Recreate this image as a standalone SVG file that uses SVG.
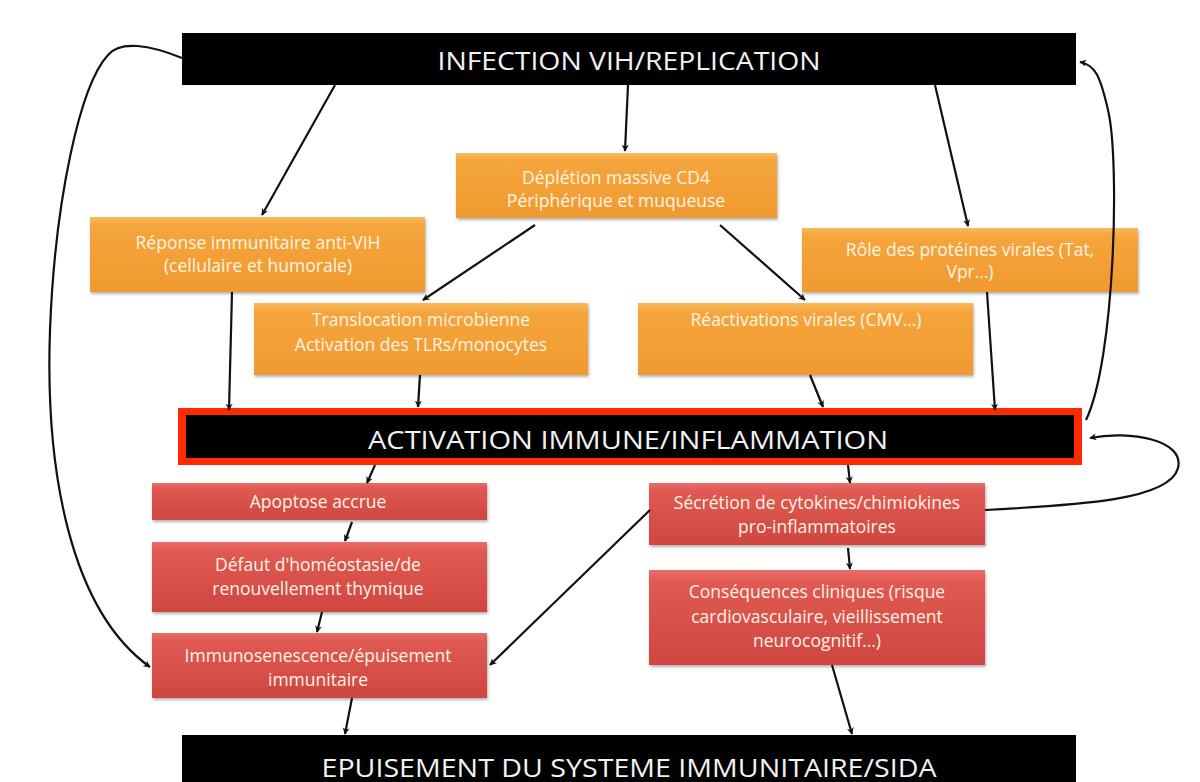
<svg xmlns="http://www.w3.org/2000/svg" width="1200" height="782" viewBox="0 0 1200 782">
<defs>
<linearGradient id="gOr" x1="0" y1="0" x2="0" y2="1">
<stop offset="0" stop-color="#f8bb5c"/>
<stop offset="0.12" stop-color="#f5a53c"/>
<stop offset="1" stop-color="#f09a30"/>
</linearGradient>
<linearGradient id="gRd" x1="0" y1="0" x2="0" y2="1">
<stop offset="0" stop-color="#ea6e66"/>
<stop offset="0.12" stop-color="#e05a53"/>
<stop offset="1" stop-color="#cf4640"/>
</linearGradient>
<filter id="sh" x="-5%" y="-10%" width="110%" height="130%">
<feDropShadow dx="1" dy="2" stdDeviation="1.5" flood-color="#000" flood-opacity="0.3"/>
</filter>
<marker id="ah" viewBox="0 0 10 10" refX="9" refY="5" markerWidth="7" markerHeight="7" orient="auto" markerUnits="userSpaceOnUse">
<path d="M0,0 L10,5 L0,10 L3,5 z" fill="#111"/>
</marker>
</defs>
<style>
.bar{fill:#000}
.or{fill:url(#gOr);filter:url(#sh)}
.rd{fill:url(#gRd);filter:url(#sh)}
.bt{font-family:"Open Sans","Liberation Sans",Arial,sans-serif;font-size:25px;fill:#f2f2f2;text-anchor:middle}
.t{font-family:"Open Sans","Liberation Sans",Arial,sans-serif;font-size:17.5px;fill:#fff4e6;text-anchor:middle}
.c{fill:none;stroke:#111;stroke-width:2.2;marker-end:url(#ah)}
</style>
<rect width="1200" height="782" fill="#fff"/>

<g id="infection">
<rect class="bar" x="182" y="33" width="894" height="52"/>
<text class="bt" x="629" y="70" textLength="383" lengthAdjust="spacingAndGlyphs">INFECTION VIH/REPLICATION</text>
</g>

<g id="depletion">
<rect class="or" x="456" y="153" width="321" height="65"/>
<text class="t" x="616" y="184">Déplétion massive CD4</text>
<text class="t" x="616" y="207">Périphérique et muqueuse</text>
</g>

<g id="reponse">
<rect class="or" x="90" y="217" width="335" height="75"/>
<text class="t" x="258" y="249">Réponse immunitaire anti-VIH</text>
<text class="t" x="258" y="272">(cellulaire et humorale)</text>
</g>

<g id="role">
<rect class="or" x="802" y="228" width="336" height="64"/>
<text class="t" x="970" y="256">Rôle des protéines virales (Tat,</text>
<text class="t" x="970" y="278">Vpr…)</text>
</g>

<g id="translocation">
<rect class="or" x="254" y="303" width="334" height="72"/>
<text class="t" x="421" y="326">Translocation microbienne</text>
<text class="t" x="421" y="351">Activation des TLRs/monocytes</text>
</g>

<g id="reactivations">
<rect class="or" x="638" y="303" width="335" height="72"/>
<text class="t" x="806" y="326">Réactivations virales (CMV…)</text>
</g>

<g id="activation">
<rect x="178" y="408" width="904" height="57" fill="#ff2a00"/>
<rect class="bar" x="186" y="415" width="888" height="43"/>
<text class="bt" x="628" y="449" textLength="520" lengthAdjust="spacingAndGlyphs">ACTIVATION IMMUNE/INFLAMMATION</text>
</g>

<g id="apoptose">
<rect class="rd" x="152" y="483" width="335" height="37"/>
<text class="t" x="318" y="508">Apoptose accrue</text>
</g>

<g id="defaut">
<rect class="rd" x="152" y="542" width="335" height="70"/>
<text class="t" x="318" y="571">Défaut d'homéostasie/de</text>
<text class="t" x="318" y="595">renouvellement thymique</text>
</g>

<g id="immunosenescence">
<rect class="rd" x="152" y="633" width="335" height="65"/>
<text class="t" x="318" y="662">Immunosenescence/épuisement</text>
<text class="t" x="318" y="686">immunitaire</text>
</g>

<g id="secretion">
<rect class="rd" x="649" y="483" width="336" height="62"/>
<text class="t" x="817" y="509">Sécrétion de cytokines/chimiokines</text>
<text class="t" x="817" y="533">pro-inflammatoires</text>
</g>

<g id="consequences">
<rect class="rd" x="649" y="570" width="336" height="95"/>
<text class="t" x="817" y="598">Conséquences cliniques (risque</text>
<text class="t" x="817" y="623">cardiovasculaire, vieillissement</text>
<text class="t" x="817" y="647">neurocognitif…)</text>
</g>

<g id="epuisement">
<rect class="bar" x="182" y="735" width="894" height="60"/>
<text class="bt" x="629" y="777" textLength="615" lengthAdjust="spacingAndGlyphs">EPUISEMENT DU SYSTEME IMMUNITAIRE/SIDA</text>
</g>

<g id="connectors">
<path class="c" d="M335,85 L262,215"/>
<path class="c" d="M628,85 L625,151"/>
<path class="c" d="M935,85 L968,226"/>
<path class="c" d="M535,225 L423,300"/>
<path class="c" d="M720,225 L805,300"/>
<path class="c" d="M232,292 L229,410"/>
<path class="c" d="M420,375 L418,407"/>
<path class="c" d="M810,375 L823,407"/>
<path class="c" d="M987,292 L995,410"/>
<path class="c" d="M1086,420 C1115,360 1120,160 1108,110 C1100,75 1095,65 1080,62"/>
<path class="c" d="M985,510 C1080,505 1170,500 1178,468 C1185,440 1130,430 1090,438"/>
<path class="c" d="M650,510 L490,665"/>
<path class="c" d="M375,465 L367,483"/>
<path class="c" d="M848,465 L850,483"/>
<path class="c" d="M352,522 L345,541"/>
<path class="c" d="M322,612 L317,632"/>
<path class="c" d="M848,548 L850,569"/>
<path class="c" d="M352,698 L345,734"/>
<path class="c" d="M832,665 L852,734"/>
<path class="c" d="M182,58 C150,45 120,40 108,55 C80,85 55,200 50,330 C45,470 70,610 150,667"/>
</g>
</svg>
